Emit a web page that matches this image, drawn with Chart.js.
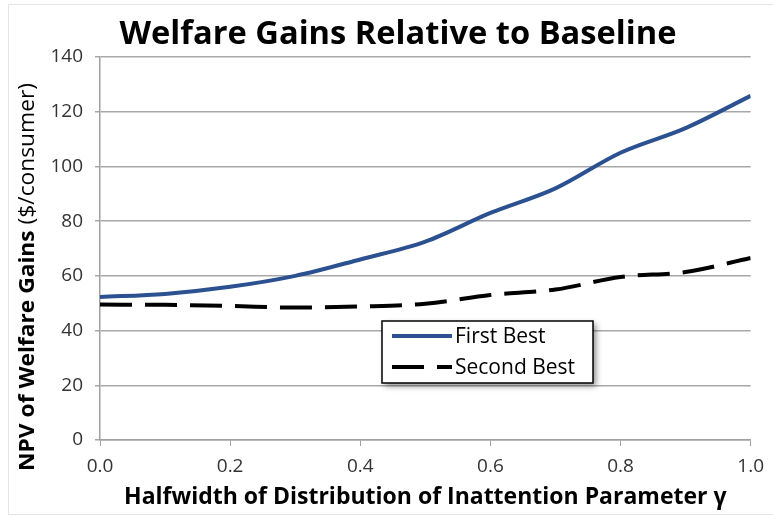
<!DOCTYPE html>
<html>
<head>
<meta charset="utf-8">
<script src="https://cdn.jsdelivr.net/npm/chart.js@4"></script>
<style>
  html, body { margin: 0; padding: 0; background: #fff; }
  #wrap { width: 773px; height: 516px; position: relative; }
</style>
</head>
<body>
<div id="wrap"><canvas id="c" width="773" height="516"></canvas></div>
<script>
// Halfwidth of the inattention-parameter distribution
const gammaHalfwidth = [0.0, 0.1, 0.2, 0.3, 0.4, 0.5, 0.6, 0.7, 0.8, 0.9, 1.0];
// NPV of welfare gains, $/consumer
const firstBest  = [52.3, 53.4, 56.0, 60.0, 66.0, 72.5, 83.0, 92.0, 105.0, 114.0, 125.8];
const secondBest = [49.5, 49.4, 49.0, 48.4, 48.8, 49.8, 53.0, 55.0, 59.6, 61.4, 66.5];
const yTicks = [0, 20, 40, 60, 80, 100, 120, 140];
const xTicks = [0.0, 0.2, 0.4, 0.6, 0.8, 1.0];

const seriesNames = ['First Best', 'Second Best'];
const TEXT = '#333333';
const FONT = "'Open Sans', 'Liberation Sans', sans-serif";

const toPoints = (ys) => gammaHalfwidth.map((x, i) => ({ x, y: ys[i] }));

// Frame, title, y-axis title (bold + regular parts) and the boxed legend
const decorations = {
  id: 'decorations',
  beforeDraw(chart) {
    const ctx = chart.ctx;
    ctx.save();
    ctx.strokeStyle = '#e4e4e4';
    ctx.lineWidth = 1;
    ctx.strokeRect(8.5, 4.5, 780, 510);
    ctx.restore();
  },
  afterDraw(chart) {
    const ctx = chart.ctx;
    ctx.save();

    // chart title
    ctx.fillStyle = '#000';
    ctx.font = "bold 33px 'Open Sans', sans-serif";
    ctx.textAlign = 'center';
    ctx.textBaseline = 'middle';
    ctx.fillText('Welfare Gains Relative to Baseline', 398, 35, 557);

    // y-axis title, rotated
    ctx.save();
    ctx.translate(28, 277);
    ctx.rotate(-Math.PI / 2);
    const boldPart = 'NPV of Welfare Gains ';
    const normPart = '($/consumer)';
    const fs = 22;
    ctx.font = `bold ${fs}px 'Open Sans', sans-serif`;
    const wb = ctx.measureText(boldPart).width;
    ctx.font = `${fs}px 'Open Sans', sans-serif`;
    const wn = ctx.measureText(normPart).width;
    const total = wb + wn;
    const target = 388;
    ctx.scale(target / total, 1);
    ctx.textAlign = 'left';
    ctx.textBaseline = 'middle';
    ctx.font = `bold ${fs}px 'Open Sans', sans-serif`;
    ctx.fillText(boldPart, -total / 2, 0);
    ctx.font = `${fs}px 'Open Sans', sans-serif`;
    ctx.fillText(normPart, -total / 2 + wb, 0);
    ctx.restore();

    // legend box with soft shadow
    const lx = 382, ly = 321, lw = 211, lh = 62;
    ctx.save();
    ctx.shadowColor = 'rgba(0,0,0,0.45)';
    ctx.shadowBlur = 6;
    ctx.shadowOffsetX = 3;
    ctx.shadowOffsetY = 3;
    ctx.fillStyle = '#fff';
    ctx.fillRect(lx, ly, lw, lh);
    ctx.restore();
    ctx.strokeStyle = '#000';
    ctx.lineWidth = 1.5;
    ctx.strokeRect(lx, ly, lw, lh);

    chart.data.datasets.forEach((ds, i) => {
      const yy = ly + 15 + i * 31;
      ctx.save();
      ctx.strokeStyle = ds.borderColor;
      ctx.lineWidth = ds.borderWidth;
      ctx.setLineDash(ds.borderDash || []);
      ctx.beginPath();
      ctx.moveTo(392, yy);
      ctx.lineTo(452, yy);
      ctx.stroke();
      ctx.restore();
      ctx.fillStyle = '#000';
      ctx.font = "21px 'Open Sans', sans-serif";
      ctx.textAlign = 'left';
      ctx.textBaseline = 'middle';
      ctx.fillText(ds.label, 455, yy + 1, 130);
    });

    ctx.restore();
  }
};

new Chart(document.getElementById('c'), {
  type: 'line',
  data: {
    datasets: [
      {
        label: seriesNames[0],
        data: toPoints(firstBest),
        borderColor: '#2b5190',
        borderWidth: 4,
        pointRadius: 0,
        cubicInterpolationMode: 'monotone',
        fill: false
      },
      {
        label: seriesNames[1],
        data: toPoints(secondBest),
        borderColor: '#000000',
        borderWidth: 4,
        borderDash: [32, 13],
        pointRadius: 0,
        cubicInterpolationMode: 'monotone',
        fill: false
      }
    ]
  },
  options: {
    responsive: false,
    animation: false,
    layout: { padding: { left: 0, right: 19, top: 57, bottom: 0 } },
    plugins: {
      legend: { display: false },
      title: { display: false },
      tooltip: { enabled: false }
    },
    scales: {
      x: {
        type: 'linear',
        min: 0,
        max: 1,
        afterBuildTicks(scale) { scale.ticks = xTicks.map(v => ({ value: v })); },
        afterFit(scale) { scale.height = 76; },
        grid: {
          display: true,
          drawOnChartArea: false,
          drawTicks: true,
          tickLength: 6,
          color: '#a0a0a0'
        },
        border: { display: true, color: '#a0a0a0', width: 1.5 },
        ticks: {
          color: TEXT,
          font: { family: FONT, size: 19 },
          padding: 9,
          maxRotation: 0,
          callback: (v) => Number(v).toFixed(1)
        },
        title: {
          display: true,
          text: 'Halfwidth of Distribution of Inattention Parameter γ',
          color: '#000',
          font: { family: FONT, size: 23, weight: 'bold' },
          padding: { top: 0, bottom: 5 }
        }
      },
      y: {
        min: 0,
        max: 140,
        afterBuildTicks(scale) { scale.ticks = yTicks.map(v => ({ value: v })); },
        afterFit(scale) { scale.width = 100; },
        grid: {
          color: '#a8a8a8',
          lineWidth: 1.5,
          drawTicks: true,
          tickLength: 5
        },
        border: { display: true, color: '#a0a0a0', width: 1.5 },
        ticks: {
          color: TEXT,
          font: { family: FONT, size: 19 },
          padding: 12
        }
      }
    }
  },
  plugins: [decorations]
});
</script>
</body>
</html>
